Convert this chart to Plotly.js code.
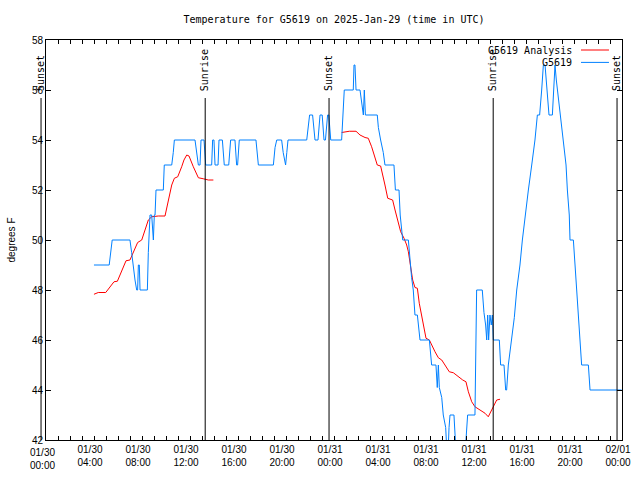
<!DOCTYPE html>
<html>
<head>
<meta charset="utf-8">
<script src="https://cdn.plot.ly/plotly-3.0.1.min.js"></script>
<style>html,body{margin:0;padding:0;background:#fff}#chart{width:640px;height:480px}</style>
</head>
<body>
<div id="chart"></div>
<script>
// ---- data (hours since 2025-01-30 00:00 UTC) ----
const baseDate = Date.UTC(2025, 0, 30);
const rangeStartHours = 1 / 3;   // 00:20
const rangeHours = 48;

const seriesNames = ['G5619 Analysis', 'G5619'];
const seriesColors = ['#ff0000', '#0080ff'];

const obsHours = [4.33,5.6,5.85,7.33,7.47,7.61,7.75,7.89,7.97,8.03,8.11,8.17,8.78,8.86,9.0,9.14,9.28,9.36,9.42,9.5,10.11,10.19,10.81,10.94,11.03,12.75,12.89,13.03,13.17,13.25,13.5,13.64,14.14,14.22,14.33,14.42,14.67,14.75,15.03,15.19,15.56,15.72,16.08,16.22,16.3,16.44,17.83,18.03,19.28,19.42,19.56,19.97,20.1,20.3,20.4,20.5,22.06,22.15,22.3,22.55,22.75,23.0,23.17,23.35,23.5,23.62,23.8,23.9,24.06,24.97,25.19,25.94,26.0,26.08,26.17,26.5,26.64,26.78,26.86,26.95,27.94,28.03,28.22,28.44,28.58,29.33,29.45,29.75,29.85,29.97,30.06,30.53,30.61,30.8,30.94,31.08,31.28,31.36,31.5,32.28,32.39,32.47,32.83,32.94,33.03,33.11,33.31,33.44,33.64,33.72,33.8,33.92,34.0,34.33,34.47,34.56,35.08,35.33,35.47,36.08,36.22,36.69,36.83,36.97,37.06,37.14,37.22,37.33,37.44,37.53,37.61,38.11,38.22,38.5,38.64,38.72,38.86,39.14,39.36,39.56,39.83,40.03,40.25,40.53,40.81,41.08,41.28,41.47,41.64,41.78,41.92,42.06,42.25,42.53,42.61,42.75,42.86,43.03,43.22,43.44,43.67,43.78,43.94,44.0,44.28,44.42,44.56,44.69,44.83,44.97,45.53,45.67,48.3];
const obsTemps = [49,49,50,50,49.5,48.8,48.4,48,48,49,49,48,48,49.5,51,51,50,51,51,52,52,53,53,53.5,54,54,53.5,53,53,54,54,53,53,54,54,53,53,54,54,53,53,54,54,53,53,54,54,53,53,53.7,54,54,53.5,53,53.5,54,54,54.5,55,55,54,54,55,55,54,54,55,55,54,54,56,56,57,57,56,56,55.5,55,56,55,55,54.5,54,53.5,53,53,52,52,51,50.5,50,50,49.5,48.5,48,47,47,46.5,46,46,45.5,45,45,44.1,45,44.1,43.7,43,42.5,42,41,42.5,43,43,42,41,41,42,43,43,48,48,47.1,46.6,46,47,46,47,46.6,47,46,46,45,45,44,44,45,46,46.9,48,49,50,51,52,53,54,55,55,56,57,57,56,55,55,56,57,56.4,55.7,55,54,53,52,51,50,50,49,48,47,46,45,45,44,44];

const anaHours = [4.33,4.69,5.31,5.67,6.0,6.28,6.64,7.0,7.33,7.69,7.97,8.31,8.58,8.86,9.14,9.69,10.25,10.53,10.81,11.03,11.31,11.64,11.83,12.06,12.25,12.61,13.03,13.44,13.86,14.28,null,24.97,25.61,26.17,26.5,26.92,27.19,27.47,27.75,27.94,28.22,28.44,28.58,28.81,29.22,29.42,29.69,29.89,30.17,30.39,30.53,30.72,30.89,31.08,31.28,31.44,31.64,31.83,32.0,32.28,32.47,32.75,33.03,33.31,33.58,33.94,34.28,34.69,35.06,35.33,35.53,35.81,36.08,36.5,36.92,37.19,37.47,37.67,37.89,38.17];
const anaTemps = [47.83,47.9,47.9,48.13,48.33,48.35,48.73,49.17,49.2,49.6,49.9,50.0,50.4,50.8,50.93,50.96,50.96,51.6,52.2,52.47,52.53,52.93,53.2,53.4,53.36,52.93,52.49,52.45,52.4,52.4,null,54.3,54.35,54.35,54.2,54.1,54.07,53.73,53.27,53.0,52.96,52.53,52.2,51.67,51.6,51.2,50.67,50.33,50.07,49.8,49.53,48.93,48.4,48.1,48.07,47.47,46.93,46.4,46.07,46.0,45.8,45.53,45.29,45.2,45.0,44.73,44.69,44.53,44.4,44.33,43.93,43.53,43.33,43.2,43.07,42.93,43.2,43.43,43.6,43.63];

const sunHours = [-0.08, 13.6, 23.92, 37.6, 47.92];
const sunLabels = ['Sunset', 'Sunrise', 'Sunset', 'Sunrise', 'Sunset'];

const tickHours = [0, 4, 8, 12, 16, 20, 24, 28, 32, 36, 40, 44, 48];

// ---- helpers ----
function stamp(h) {
  if (h === null) return null;
  const d = new Date(baseDate + Math.round(h * 3600000));
  return d.toISOString().slice(0, 19).replace('T', ' ');
}
function tickLabel(h) {
  const d = new Date(baseDate + h * 3600000);
  const p = n => String(n).padStart(2, '0');
  return p(d.getUTCMonth() + 1) + '/' + p(d.getUTCDate()) + '<br>' + p(d.getUTCHours()) + ':' + p(d.getUTCMinutes());
}
function frac(h) { return (h - rangeStartHours) / rangeHours; }

const mono = 'DejaVu Sans Mono';
const sans = 'Liberation Sans';

const traces = [
  { x: anaHours.map(stamp), y: anaTemps, type: 'scatter', mode: 'lines', name: seriesNames[0],
    line: { color: seriesColors[0], width: 1 }, connectgaps: false },
  { x: obsHours.map(stamp), y: obsTemps, type: 'scatter', mode: 'lines', name: seriesNames[1],
    line: { color: seriesColors[1], width: 1 } }
];

const inRange = tickHours.filter(h => h >= rangeStartHours && h <= rangeStartHours + rangeHours);
const outRange = tickHours.filter(h => !(h >= rangeStartHours && h <= rangeStartHours + rangeHours));

const shapes = [];
const annotations = [];
sunHours.forEach((h, i) => {
  shapes.push({ type: 'line', xref: 'paper', yref: 'paper', x0: frac(h), x1: frac(h), y0: 0, y1: 0.855,
    line: { color: '#000', width: 1 }, layer: 'above' });
  annotations.push({ xref: 'paper', yref: 'paper', x: frac(h), y: 0.8675, text: sunLabels[i],
    textangle: -90, showarrow: false, xanchor: 'center', yanchor: 'bottom',
    font: { family: mono, size: 10, color: '#000' } });
});
outRange.forEach(h => {
  annotations.push({ xref: 'paper', yref: 'paper', x: frac(h), y: -0.012, text: tickLabel(h),
    showarrow: false, xanchor: 'center', yanchor: 'top', align: 'center',
    font: { family: sans, size: 10, color: '#000' } });
});
// custom legend (text right, sample line after it)
const legendY = [0.975, 0.944];
seriesNames.forEach((n, i) => {
  annotations.push({ xref: 'paper', yref: 'paper', x: 0.9167, y: legendY[i], text: n, showarrow: false,
    xanchor: 'right', yanchor: 'middle', font: { family: mono, size: 10, color: '#000' } });
  shapes.push({ type: 'line', xref: 'paper', yref: 'paper', x0: 0.9288, x1: 0.9774, y0: legendY[i], y1: legendY[i],
    line: { color: seriesColors[i], width: 1 } });
});

const layout = {
  width: 640, height: 480,
  margin: { l: 46, r: 18, t: 40, b: 40, pad: 0 },
  paper_bgcolor: '#fff', plot_bgcolor: '#fff',
  showlegend: false,
  title: { text: 'Temperature for G5619 on 2025-Jan-29 (time in UTC)', xref: 'paper', x: 0.5,
    yref: 'container', y: 0.96, yanchor: 'middle', font: { family: mono, size: 10, color: '#000' } },
  xaxis: {
    type: 'date', range: [stamp(rangeStartHours), stamp(rangeStartHours + rangeHours)],
    tickmode: 'array', tickvals: inRange.map(stamp), ticktext: inRange.map(tickLabel),
    ticks: 'inside', ticklen: 0, showline: true, mirror: 'ticks', linecolor: '#000', linewidth: 1,
    showgrid: false, zeroline: false, tickfont: { family: sans, size: 10, color: '#000' },
    minor: { tickmode: 'linear', tick0: stamp(rangeStartHours), dtick: 3600000, ticks: 'inside', ticklen: 4,
      tickcolor: '#000', tickwidth: 1, showgrid: false }
  },
  yaxis: {
    range: [42, 58], dtick: 2, tick0: 42, ticks: 'inside', ticklen: 5, tickcolor: '#000',
    showline: true, mirror: 'ticks', linecolor: '#000', linewidth: 1, showgrid: false, zeroline: false,
    tickfont: { family: sans, size: 10, color: '#000' },
    title: { text: 'degrees F', font: { family: sans, size: 10, color: '#000' }, standoff: 14 }
  },
  shapes: shapes,
  annotations: annotations
};

Plotly.newPlot('chart', traces, layout, { staticPlot: true, displayModeBar: false });
</script>
</body>
</html>
